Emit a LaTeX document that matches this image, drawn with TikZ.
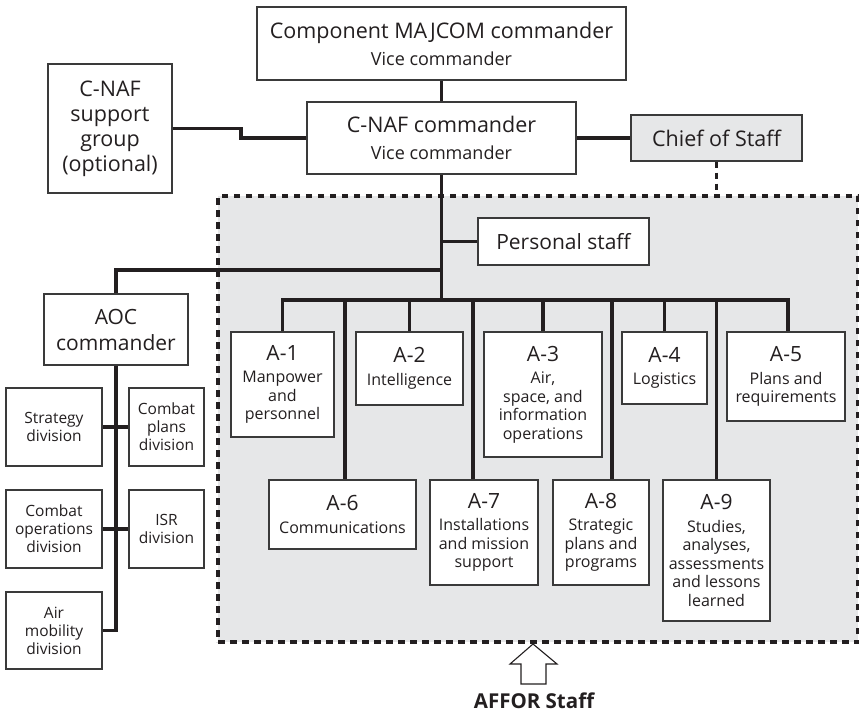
\documentclass[tikz,border=0pt]{standalone}
\usepackage{fontspec}
\setmainfont{Open Sans}
\usetikzlibrary{calc}
\definecolor{ink}{HTML}{231F20}
\definecolor{bord}{HTML}{3A3A3A}
\definecolor{shade}{HTML}{E6E7E8}
\newcommand\fsz[2]{\fontsize{#1}{#2}\selectfont}
\begin{document}
\begin{tikzpicture}[x=1pt,y=-1pt,
  box/.style={draw=bord, line width=1.1pt, fill=white, inner sep=0pt, align=center, text=ink},
  link/.style={draw=ink, line width=3.5pt},
  dashline/.style={draw=ink, line width=3.5pt, dash pattern=on 6pt off 5pt},
  divbox/.style={box, font=\fsz{15.5}{18}},
  abox/.style={box, font=\fsz{16}{18.5}},
  atitle/.style={}
]
\useasboundingbox (0,0) rectangle (859,713);

% staff area
\node[draw=ink, line width=3.5pt, dash pattern=on 6.5pt off 5.5pt, fill=shade,
      minimum width=640pt, minimum height=446pt, inner sep=0pt] (dbox) at (538,419) {};

% top
\node[box, minimum width=369pt, minimum height=73pt, font=\fsz{18}{20}] (maj) at (441.5,43.5)
  {{\fsz{21.5}{22}Component MAJCOM commander}\\[7pt]Vice commander};
\node[box, minimum width=269pt, minimum height=72pt, font=\fsz{18}{20}] (cnaf) at (441.5,138)
  {{\fsz{21.5}{22}C-NAF commander}\\[7pt]Vice commander};
\node[box, fill=shade, minimum width=171pt, minimum height=46pt, font=\fsz{21.5}{24}] (cos) at (716.5,138) {Chief of Staff};
\node[box, minimum width=124pt, minimum height=129pt, font=\fsz{21.5}{25}] (sup) at (110,128.5)
  {C-NAF\\support\\group\\(optional)};
\node[box, minimum width=171pt, minimum height=47pt, font=\fsz{21}{24}] (ps) at (563.5,241.5) {Personal staff};

% AOC
\node[box, minimum width=144pt, minimum height=71pt, font=\fsz{21}{26}] (aoc) at (116,329.5) {AOC\\commander};
\node[divbox, minimum width=96pt, minimum height=78pt] (strat) at (54,427) {Strategy\\division};
\node[divbox, minimum width=75pt, minimum height=78pt] (cplans) at (166.5,427) {Combat\\plans\\division};
\node[divbox, minimum width=96pt, minimum height=78pt] (cops) at (54,529) {Combat\\operations\\division};
\node[divbox, minimum width=75pt, minimum height=78pt] (isr) at (166.5,529) {ISR\\division};
\node[divbox, minimum width=96pt, minimum height=77pt] (amd) at (54,630.5) {Air\\mobility\\division};

% A staff
\node[abox, minimum width=103pt, minimum height=105pt] (a1) at (282.5,384.5)
  {{\fsz{21}{22}A-1}\\[4pt]Manpower\\and\\personnel};
\node[abox, minimum width=107pt, minimum height=73pt] (a2) at (409.5,368.5)
  {{\fsz{21}{22}A-2}\\[4pt]Intelligence};
\node[abox, minimum width=118pt, minimum height=125pt] (a3) at (543,394.5)
  {{\fsz{21}{22}A-3}\\[4pt]Air,\\space, and\\information\\operations};
\node[abox, minimum width=85pt, minimum height=72pt] (a4) at (664.5,368)
  {{\fsz{21}{22}A-4}\\[4pt]Logistics};
\node[abox, minimum width=118pt, minimum height=89pt] (a5) at (786,376.5)
  {{\fsz{21}{22}A-5}\\[4pt]Plans and\\requirements};
\node[abox, minimum width=147pt, minimum height=69pt] (a6) at (342.5,514.5)
  {{\fsz{21}{22}A-6}\\[4pt]Communications};
\node[abox, minimum width=108pt, minimum height=105pt] (a7) at (484,532.5)
  {{\fsz{21}{22}A-7}\\[4pt]Installations\\and mission\\support};
\node[abox, minimum width=96pt, minimum height=105pt] (a8) at (601,532.5)
  {{\fsz{21}{22}A-8}\\[4pt]Strategic\\plans and\\programs};
\node[abox, minimum width=107pt, minimum height=141pt] (a9) at (716.5,550.5)
  {{\fsz{21}{22}A-9}\\[4pt]Studies,\\analyses,\\assessments\\and lessons\\learned};

% connectors
\coordinate (bus) at (441.5,300);
\coordinate (aocj) at (441.5,270);
\coordinate (kink) at (241,0);
\draw[link] (maj.south) -- (cnaf.north);
\draw[link] (cnaf.south) -- (bus);
\draw[link] (cnaf.east) -- (cos.west);
\draw[link] (sup.east) -- (sup.east -| kink) |- (cnaf.west);
\draw[link] (ps.west) -- (ps.west -| cnaf.south);
\draw[link] (aoc.north) |- (aocj);
\draw[link] (aoc.south) |- (amd.east);
\draw[link] (strat.east) -- (cplans.west);
\draw[link] (cops.east) -- (isr.west);
\draw[link] (a1.north) |- (bus) -| ([xshift=2pt]a5.north);
\draw[link] (a2.north) -- (a2.north |- bus);
\draw[link] (a3.north) -- (a3.north |- bus);
\draw[link] (a4.north) -- (a4.north |- bus);
\draw[link] ([xshift=2.5pt]a6.north) -- ([xshift=2.5pt]a6.north |- bus);
\draw[link] ([xshift=-11pt]a7.north) -- ([xshift=-11pt]a7.north |- bus);
\draw[link] ([xshift=11pt]a8.north) -- ([xshift=11pt]a8.north |- bus);
\draw[link] (a9.north) -- (a9.north |- bus);
\draw[dashline] (cos.south) -- (cos.south |- dbox.north);

% AFFOR arrow
\coordinate (tip) at (533,644);
\draw[draw=ink, line width=1.1pt, fill=white] (tip) -- ++(24,20) -- ++(-11,0) -- ++(0,20)
  -- ++(-25,0) -- ++(0,-20) -- ++(-11,0) -- cycle;
\node[font=\bfseries\fsz{20.5}{24}, text=ink, anchor=base] (affor) at (534,708) {AFFOR Staff};
\end{tikzpicture}
\end{document}
